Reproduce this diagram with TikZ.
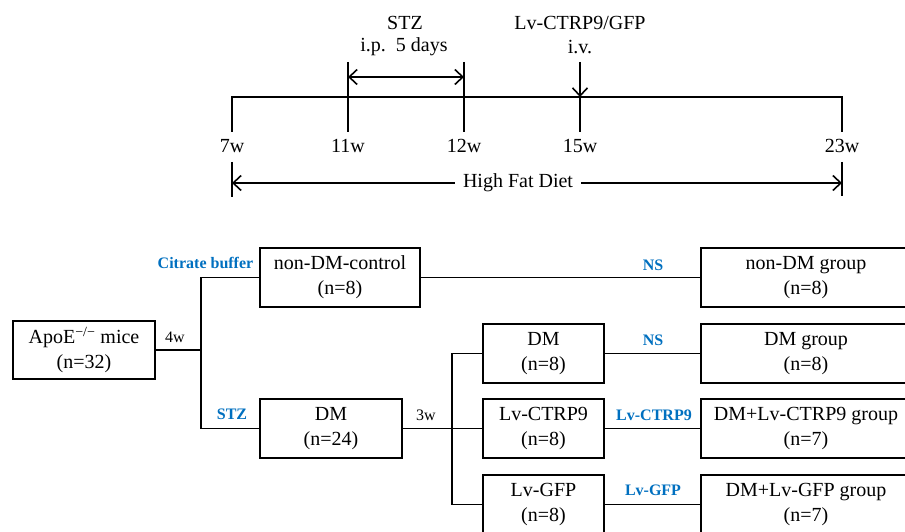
\documentclass[tikz,border=0pt]{standalone}
\usepackage{fontspec}
\setmainfont{Liberation Serif}
\usetikzlibrary{arrows.meta}
\definecolor{lblblue}{RGB}{0,112,192}
\tikzset{
  box/.style={draw, line width=1.6pt, rectangle, align=center, inner sep=0pt,
    font=\fontsize{20}{25}\selectfont},
  smallbox/.style={box, minimum width=121pt, minimum height=59pt},
  rightbox/.style={box, minimum width=210pt, minimum height=59pt},
  conn/.style={line width=1.6pt},
  tl/.style={line width=1.6pt},
  tip/.style={arrows={-Straight Barb[length=8pt,width=15pt]}},
  tips/.style={arrows={Straight Barb[length=8pt,width=15pt]-Straight Barb[length=8pt,width=15pt]}},
  tltext/.style={font=\fontsize{20}{25}\selectfont, inner sep=1pt},
  bluelbl/.style={font=\fontsize{16}{19}\selectfont\bfseries, text=lblblue, inner sep=1pt},
  wlbl/.style={font=\fontsize{16}{19}\selectfont, inner sep=1pt},
}
\begin{document}
\begin{tikzpicture}[x=1pt,y=-1pt]
\clip (0,0) rectangle (905,532);
\fill[white] (0,0) rectangle (905,532);

% ---------- timeline ----------
\coordinate (t7) at (232,97);
\coordinate (t11) at (348,97);
\coordinate (t12) at (464,97);
\coordinate (t15) at (580,97);
\coordinate (t23) at (842,97);
\coordinate (t7b) at (232,132);
\coordinate (t11a) at (348,62);
\coordinate (t11b) at (348,132);
\coordinate (t12a) at (464,62);
\coordinate (t12b) at (464,132);
\coordinate (t15a) at (580,62);
\coordinate (t15b) at (580,132);
\coordinate (t23b) at (842,132);
\coordinate (s11) at (348,77);
\coordinate (s12) at (464,77);

\draw[tl] (t7b) -- (t7) -- (t23) -- (t23b);
\draw[tl] (t11a) -- (t11b);
\draw[tl] (t12a) -- (t12b);
\draw[tl] (t15) -- (t15b);
\draw[tl,tip] (t15a) -- (t15);
\draw[tl,tips] (s11) -- (s12);

\node[tltext] (l7) at (232,146) {7w};
\node[tltext] (l11) at (348,146) {11w};
\node[tltext] (l12) at (464,146) {12w};
\node[tltext] (l15) at (580,146) {15w};
\node[tltext] (l23) at (842,146) {23w};

\node[tltext] (stz) at (405,23) {STZ};
\node[tltext] (ip) at (404,47) {i.p.\ \ 5 days};
\node[tltext] (lv) at (580,23) {Lv-CTRP9/GFP};
\node[tltext] (iv) at (580,47) {i.v.};

\coordinate (h7a) at (232,162);
\coordinate (h7b) at (232,197);
\coordinate (h23a) at (842,162);
\coordinate (h23b) at (842,196);
\coordinate (h7) at (232,183);
\coordinate (h23) at (842,183);
\draw[tl] (h7a) -- (h7b);
\draw[tl] (h23a) -- (h23b);
\draw[tl,tips] (h7) -- (h23);
\node[tltext, fill=white, inner xsep=8pt] (hfd) at (518,183) {High Fat Diet};

% ---------- flow chart ----------
\node[box, minimum width=142pt, minimum height=58pt] (apoe) at (84,350)
  {ApoE\textsuperscript{−/−} mice\\(n=32)};
\node[box, minimum width=160pt, minimum height=59pt] (ndc) at (340,277.5)
  {non-DM-control\\(n=8)};
\node[box, minimum width=142pt, minimum height=59pt] (dm24) at (331,428.5)
  {DM\\(n=24)};
\node[smallbox] (dm8) at (543.5,353.5) {DM\\(n=8)};
\node[smallbox] (ctrp) at (543.5,428.5) {Lv-CTRP9\\(n=8)};
\node[smallbox] (gfp) at (543.5,504.5) {Lv-GFP\\(n=8)};

\node[rightbox] (ndg) at (806,277.5) {non-DM group\\(n=8)};
\node[rightbox] (dmg) at (806,353.5) {DM group\\(n=8)};
\node[rightbox] (ctrpg) at (806,428.5) {DM+Lv-CTRP9 group\\(n=7)};
\node[rightbox] (gfpg) at (806,504.5) {DM+Lv-GFP group\\(n=7)};

\coordinate (sp1) at (201,350);
\coordinate (sp2) at (452,428.5);

\draw[conn] (apoe.east) -- (sp1);
\draw[conn] (ndc.west) -| (sp1);
\draw[conn] (dm24.west) -| (sp1);
\draw[conn] (dm24.east) -- (sp2);
\draw[conn] (dm8.west) -| (sp2);
\draw[conn] (gfp.west) -| (sp2);
\draw[conn] (ctrp.west) -- (sp2);

\draw[conn] (ndc.east) -- (ndg.west);
\draw[conn] (dm8.east) -- (dmg.west);
\draw[conn] (ctrp.east) -- (ctrpg.west);
\draw[conn] (gfp.east) -- (gfpg.west);

\node[wlbl] (w4) at (175,337) {4w};
\node[wlbl] (w3) at (426,415) {3w};
\node[bluelbl] (cb) at (205.5,263) {Citrate buffer};
\node[bluelbl] (stzl) at (232,414) {STZ};
\node[bluelbl] (ns1) at (653,265) {NS};
\node[bluelbl] (ns2) at (653,340) {NS};
\node[bluelbl] (lvc) at (654,415) {Lv-CTRP9};
\node[bluelbl] (lvg) at (653,490) {Lv-GFP};
\end{tikzpicture}
\end{document}
